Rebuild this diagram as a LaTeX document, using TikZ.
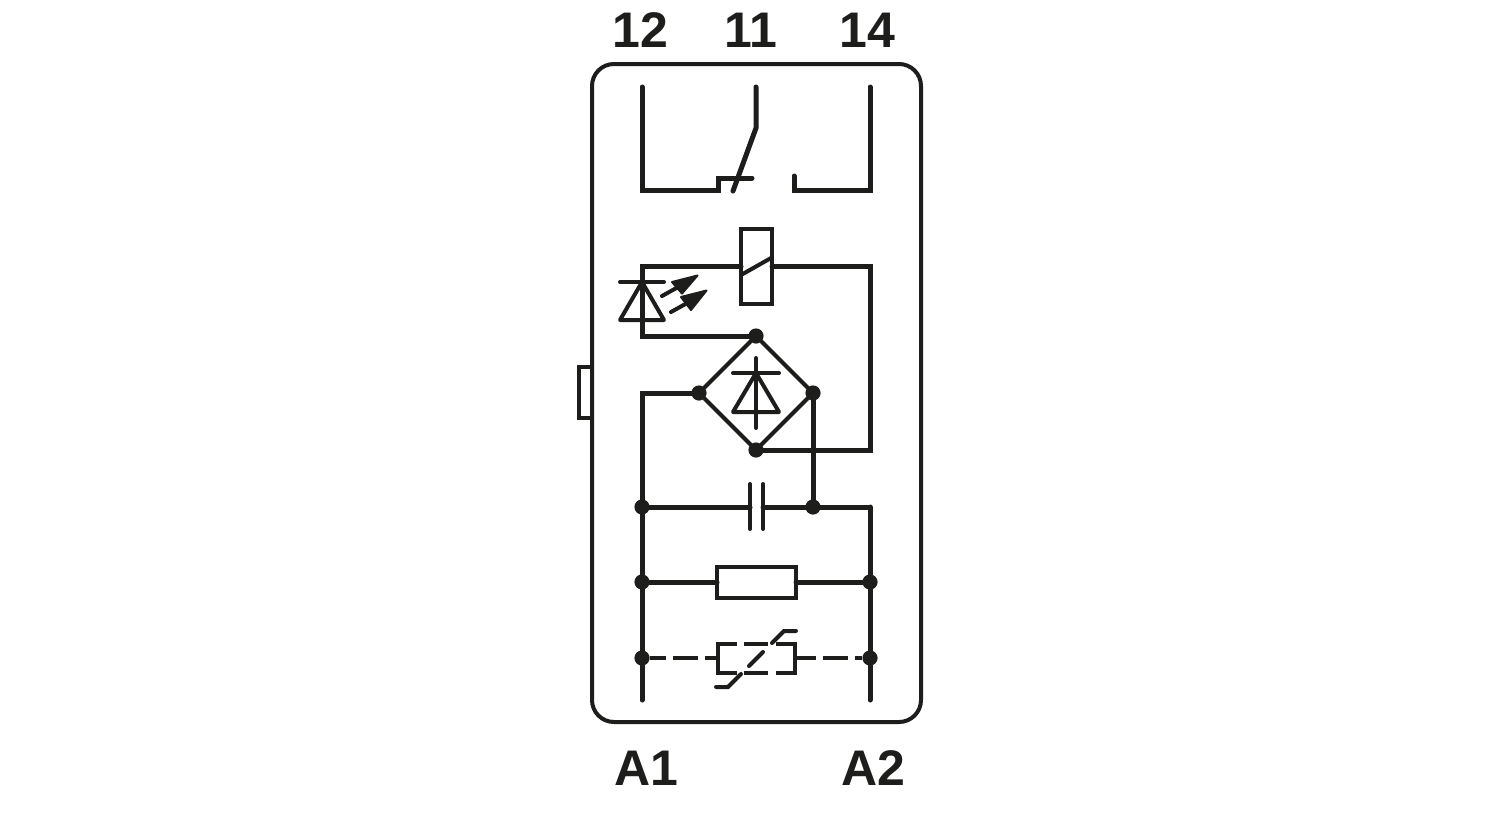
\documentclass[tikz,border=0pt]{standalone}
\usepackage{fontspec}
\setmainfont{Liberation Sans}
\begin{document}
\begin{tikzpicture}[x=0.5pt,y=-0.5pt,
  wire/.style={line width=2.5pt,line join=miter,line cap=round,color=ink},
  thin wire/.style={line width=2pt,line join=miter,line cap=round,color=ink},
  dot/.style={circle,fill=ink,inner sep=0pt,minimum size=7.6pt,outer sep=0pt},
  part/.style={draw=ink,rectangle,line width=2pt,inner sep=0pt,outer sep=0pt,fill=white},
  label/.style={inner sep=0pt,font=\fontsize{25}{25}\selectfont\bfseries,text=ink},
  tip/.style={fill=ink,draw=ink,line width=1pt,line join=round}]
\definecolor{ink}{HTML}{1D1D1B}
\useasboundingbox (0,0) rectangle (1500,820);
\fill[white] (0,0) rectangle (1500,820);
% housing
\draw[thin wire,rounded corners=11pt] (592,64) rectangle (921,722);
\draw[thin wire,line cap=butt] (591,367) -- (579,367) -- (579,418) -- (591,418);
% labels
\node[label] (t12) at (640.5,30.5) {12};
\node[label] (t11) at (750.5,30.5) {11};
\node[label] (t14) at (867.5,30.5) {14};
\node[label] (ta1) at (646,768) {A1};
\node[label] (ta2) at (873,768) {A2};
% contact
\coordinate (c12) at (642,87);
\coordinate (c11) at (756,87);
\coordinate (c14) at (870,87);
\coordinate (knee) at (756,128);
\draw[wire] (c12) -- (642,190) -- (718,190) -- (718,178) -- (752,178);
\draw[wire] (c11) -- (knee) -- (733,191);
\draw[wire] (794,176) -- (794,190) -- (870,190) -- (c14);
% junctions
\node[dot] (top) at (756,336) {};
\node[dot] (lft) at (699,393) {};
\node[dot] (rgt) at (813,393) {};
\node[dot] (bot) at (756,450) {};
\node[dot] (cl) at (642,507) {};
\node[dot] (cm) at (813,507) {};
\node[dot] (rl) at (642,582) {};
\node[dot] (rr) at (870,582) {};
\node[dot] (vl) at (642,658) {};
\node[dot] (vr) at (870,658) {};
\coordinate (ul) at (642,266.5);
\coordinate (ur) at (870,266.5);
\coordinate (endl) at (642,700);
\coordinate (endr) at (870,700);
% coil
\node[part,minimum width=15.5pt,minimum height=37.5pt] (coil) at (756.5,266.5) {};
\draw[wire] (coil.west) -- (ul) -- (642,336) -- (top);
\draw[wire] (coil.east) -- (ur) -- (870,450) -- (bot);
\draw[thin wire] (741,275) -- (771,258);
% LED
\draw[thin wire,line join=round] (642,282) -- (620,320) -- (664,320) -- cycle;
\draw[thin wire] (620,282) -- (664,282);
\draw[thin wire] (662,296) -- (680,286);
\draw[tip] (697.5,275.5) -- (672,282) -- (682,293.5) -- cycle;
\draw[thin wire] (671,312) -- (689,302);
\draw[tip] (706.5,290.5) -- (681,297) -- (691,310) -- cycle;
% bridge
\draw[thin wire] (top) -- (lft) -- (bot) -- (rgt) -- (top);
\draw[thin wire,line join=round] (756,373) -- (733,412) -- (779,412) -- cycle;
\draw[thin wire] (733,373) -- (779,373);
\draw[thin wire] (756,358) -- (756,428);
% rails
\draw[wire] (lft) -- (642,393) -- (endl);
\draw[wire] (rgt) -- (cm);
\draw[wire] (870,507) -- (endr);
% capacitor
\coordinate (pl) at (750,507);
\coordinate (pr) at (763,507);
\draw[wire] (cl) -- (pl);
\draw[wire] (pr) -- (870,507);
\draw[thin wire] (750,484) -- (750,529);
\draw[thin wire] (763,484) -- (763,529);
% resistor
\node[part,minimum width=39.5pt,minimum height=15.5pt] (res) at (756.5,582) {};
\draw[wire] (rl) -- (res.west);
\draw[wire] (res.east) -- (rr);
% varistor
\coordinate (vw) at (717,658);
\coordinate (ve) at (795,658);
\draw[thin wire,line cap=butt,dash pattern=on 8pt off 3.5pt on 12.5pt off 3.5pt on 10pt off 100pt] (vl) -- (vw);
\draw[thin wire,line cap=butt,dash pattern=on 10.5pt off 3.5pt on 12.5pt off 3.5pt on 8pt off 100pt] (ve) -- (vr);
\draw[thin wire,line cap=butt] (737,644) -- (718,644) -- (718,673) -- (737,673);
\draw[thin wire,line cap=butt] (776,644) -- (795,644) -- (795,673) -- (776,673);
\draw[thin wire,line cap=butt] (744,644) -- (768,644);
\draw[thin wire,line cap=butt] (744,673) -- (768,673);
\draw[thin wire] (716,687) -- (728,687) -- (741,674);
\draw[thin wire] (749,666) -- (763,652);
\draw[thin wire] (772,643) -- (784,631) -- (796,631);
\end{tikzpicture}
\end{document}
